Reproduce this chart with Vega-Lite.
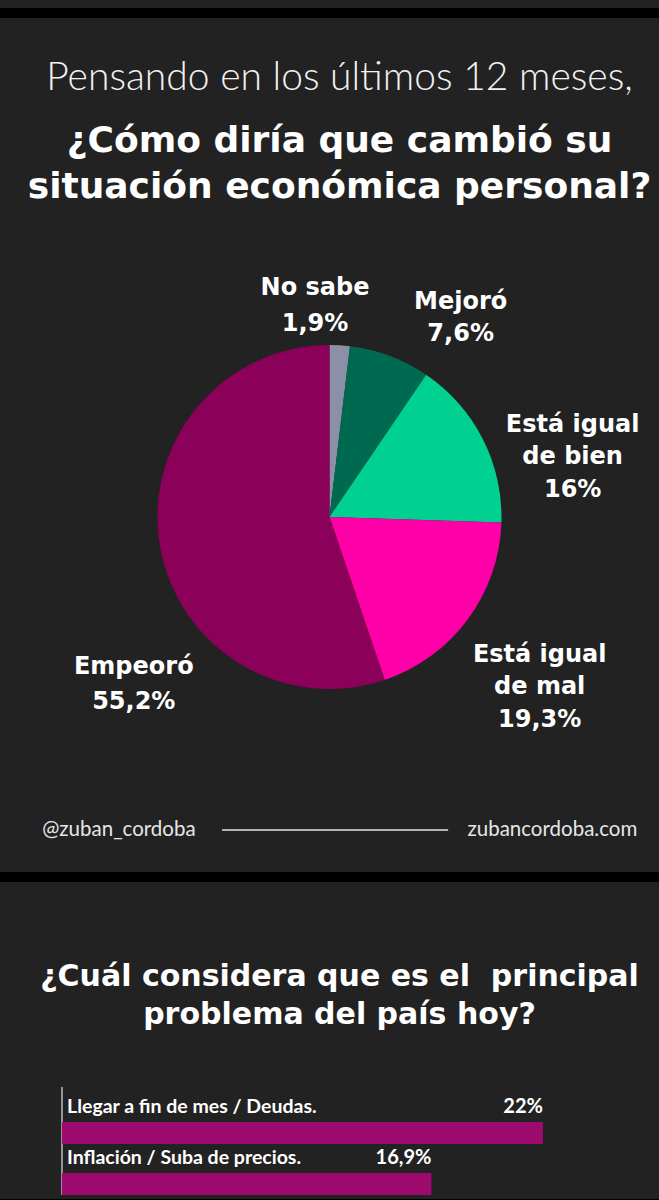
{
  "$schema": "https://vega.github.io/schema/vega-lite/v6.json",
  "background": "#222222",
  "padding": {"top": 7, "left": 0, "right": 0, "bottom": 0},
  "spacing": 0,
  "config": {
    "view": {"stroke": null},
    "font": "Lato"
  },
  "vconcat": [
    {
      "width": 659, "height": 10,
      "view": {"fill": "#000000", "stroke": null},
      "data": {"values": [{"banda": ""}]},
      "mark": {"type": "text"},
      "encoding": {"text": {"field": "banda"}}
    },
    {
      "width": 659, "height": 41,
      "data": {"values": [{"banda": ""}]},
      "mark": {"type": "text"},
      "encoding": {"text": {"field": "banda"}}
    },
    {
      "width": 659, "height": 544,
      "title": {
        "text": "Pensando en los últimos 12 meses,",
        "subtitle": ["¿Cómo diría que cambió su", "situación económica personal?"],
        "anchor": "middle", "frame": "group",
        "color": "#f2f2f2", "font": "Lato", "fontSize": 39, "fontWeight": 300,
        "subtitleColor": "#ffffff", "subtitleFont": "DejaVu Sans", "subtitleFontSize": 36, "subtitleFontWeight": 700,
        "subtitleLineHeight": 46, "subtitlePadding": 26,
        "offset": 40, "dx": 10
      },
      "data": {"values": [
        {"respuesta": "No sabe", "valor": 1.9, "etiqueta": "No sabe\n1,9%"},
        {"respuesta": "Mejoró", "valor": 7.6, "etiqueta": "Mejoró\n7,6%"},
        {"respuesta": "Está igual de bien", "valor": 16, "etiqueta": "Está igual\nde bien\n16%"},
        {"respuesta": "Está igual de mal", "valor": 19.3, "etiqueta": "Está igual\nde mal\n19,3%"},
        {"respuesta": "Empeoró", "valor": 55.2, "etiqueta": "Empeoró\n55,2%"}
      ]},
      "layer": [
        {
          "mark": {"type": "arc", "outerRadius": 172},
          "encoding": {
            "theta": {"field": "valor", "type": "quantitative", "stack": true},
            "order": {"field": "valor", "type": "quantitative", "sort": "ascending"},
            "color": {
              "field": "respuesta", "type": "nominal",
              "scale": {
                "domain": ["No sabe", "Mejoró", "Está igual de bien", "Está igual de mal", "Empeoró"],
                "range": ["#8a90a8", "#006a50", "#00d190", "#ff00a8", "#8b0059"]
              },
              "legend": null
            }
          }
        },
        {
          "transform": [{"filter": {"field": "respuesta", "equal": "No sabe"}}],
          "mark": {"type": "text", "align": "center", "baseline": "middle", "font": "DejaVu Sans", "fontSize": 24, "fontWeight": 700, "lineHeight": 36, "lineBreak": "\n", "color": "#ffffff"},
          "encoding": {
            "x": {"datum": 47.8, "type": "quantitative", "scale": {"domain": [0, 100], "nice": false, "zero": false}, "axis": null},
            "y": {"datum": 7.95, "type": "quantitative", "scale": {"domain": [0, 100], "nice": false, "zero": false, "reverse": true}, "axis": null},
            "text": {"field": "etiqueta"}
          }
        },
        {
          "transform": [{"filter": {"field": "respuesta", "equal": "Mejoró"}}],
          "mark": {"type": "text", "align": "center", "baseline": "middle", "font": "DejaVu Sans", "fontSize": 24, "fontWeight": 700, "lineHeight": 32, "lineBreak": "\n", "color": "#ffffff"},
          "encoding": {
            "x": {"datum": 69.9, "type": "quantitative", "axis": null},
            "y": {"datum": 10.5, "type": "quantitative", "axis": null},
            "text": {"field": "etiqueta"}
          }
        },
        {
          "transform": [{"filter": {"field": "respuesta", "equal": "Está igual de bien"}}],
          "mark": {"type": "text", "align": "center", "baseline": "middle", "font": "DejaVu Sans", "fontSize": 24, "fontWeight": 700, "lineHeight": 32.5, "lineBreak": "\n", "color": "#ffffff"},
          "encoding": {
            "x": {"datum": 86.9, "type": "quantitative", "axis": null},
            "y": {"datum": 33.0, "type": "quantitative", "axis": null},
            "text": {"field": "etiqueta"}
          }
        },
        {
          "transform": [{"filter": {"field": "respuesta", "equal": "Está igual de mal"}}],
          "mark": {"type": "text", "align": "center", "baseline": "middle", "font": "DejaVu Sans", "fontSize": 24, "fontWeight": 700, "lineHeight": 32.5, "lineBreak": "\n", "color": "#ffffff"},
          "encoding": {
            "x": {"datum": 81.9, "type": "quantitative", "axis": null},
            "y": {"datum": 75.3, "type": "quantitative", "axis": null},
            "text": {"field": "etiqueta"}
          }
        },
        {
          "transform": [{"filter": {"field": "respuesta", "equal": "Empeoró"}}],
          "mark": {"type": "text", "align": "center", "baseline": "middle", "font": "DejaVu Sans", "fontSize": 24, "fontWeight": 700, "lineHeight": 35, "lineBreak": "\n", "color": "#ffffff"},
          "encoding": {
            "x": {"datum": 20.3, "type": "quantitative", "axis": null},
            "y": {"datum": 77.5, "type": "quantitative", "axis": null},
            "text": {"field": "etiqueta"}
          }
        }
      ]
    },
    {
      "width": 659, "height": 82,
      "layer": [
        {
          "data": {"values": [{"texto": "@zuban_cordoba"}]},
          "mark": {"type": "text", "align": "left", "baseline": "middle", "fontSize": 20.5, "fontWeight": 400, "color": "#e6e6e6"},
          "encoding": {
            "x": {"datum": 6.4, "type": "quantitative", "scale": {"domain": [0, 100], "nice": false, "zero": false}, "axis": null},
            "text": {"field": "texto"}
          }
        },
        {
          "data": {"values": [{"texto": "zubancordoba.com"}]},
          "mark": {"type": "text", "align": "right", "baseline": "middle", "fontSize": 20.5, "fontWeight": 400, "color": "#e6e6e6"},
          "encoding": {
            "x": {"datum": 96.7, "type": "quantitative", "axis": null},
            "text": {"field": "texto"}
          }
        },
        {
          "data": {"values": [{"separador": "línea"}]},
          "mark": {"type": "rule", "color": "#e6e6e6", "strokeWidth": 1.5},
          "encoding": {
            "x": {"datum": 33.7, "type": "quantitative", "axis": null},
            "x2": {"datum": 68.0}
          }
        }
      ]
    },
    {
      "width": 659, "height": 10,
      "view": {"fill": "#000000", "stroke": null},
      "data": {"values": [{"banda": ""}]},
      "mark": {"type": "text"},
      "encoding": {"text": {"field": "banda"}}
    },
    {
      "width": 659, "height": 80,
      "data": {"values": [{"banda": ""}]},
      "mark": {"type": "text"},
      "encoding": {"text": {"field": "banda"}}
    },
    {
      "width": 659, "height": 108,
      "title": {
        "text": ["¿Cuál considera que es el\u00a0 principal", "problema del país hoy?"],
        "anchor": "middle", "frame": "group",
        "color": "#ffffff", "font": "DejaVu Sans", "fontSize": 30, "fontWeight": 700, "lineHeight": 38,
        "offset": 56, "dx": 10
      },
      "data": {"values": [
        {"problema": "Llegar a fin de mes / Deudas.", "pct": 22, "pct_texto": "22%"},
        {"problema": "Inflación / Suba de precios.", "pct": 16.9, "pct_texto": "16,9%"}
      ]},
      "layer": [
        {
          "mark": {"type": "rule", "color": "#9d9d9d", "strokeWidth": 1.5},
          "encoding": {
            "x": {"datum": 0, "type": "quantitative", "scale": {"domain": [-2.836, 27.31], "nice": false, "zero": false}, "axis": null}
          }
        },
        {
          "mark": {"type": "bar", "color": "#9c0a6e"},
          "encoding": {
            "y": {"field": "problema", "type": "nominal", "sort": null,
                  "scale": {"paddingInner": 0.5686, "paddingOuter": 0.343, "align": 1},
                  "axis": null},
            "x": {"field": "pct", "type": "quantitative", "axis": null}
          }
        },
        {
          "mark": {"type": "text", "align": "left", "baseline": "bottom", "dx": 5, "dy": -5, "fontSize": 19.5, "fontWeight": 700, "color": "#ffffff"},
          "encoding": {
            "y": {"field": "problema", "type": "nominal", "sort": null, "bandPosition": 0, "axis": null},
            "x": {"datum": 0, "type": "quantitative", "axis": null},
            "text": {"field": "problema"}
          }
        },
        {
          "mark": {"type": "text", "align": "right", "baseline": "bottom", "dy": -5, "fontSize": 20, "fontWeight": 700, "color": "#ffffff"},
          "encoding": {
            "y": {"field": "problema", "type": "nominal", "sort": null, "bandPosition": 0, "axis": null},
            "x": {"field": "pct", "type": "quantitative", "axis": null},
            "text": {"field": "pct_texto"}
          }
        }
      ]
    },
    {
      "width": 659, "height": 7,
      "view": {"fill": "#000000", "stroke": null},
      "data": {"values": [{"banda": ""}]},
      "mark": {"type": "text"},
      "encoding": {"text": {"field": "banda"}}
    }
  ]
}
